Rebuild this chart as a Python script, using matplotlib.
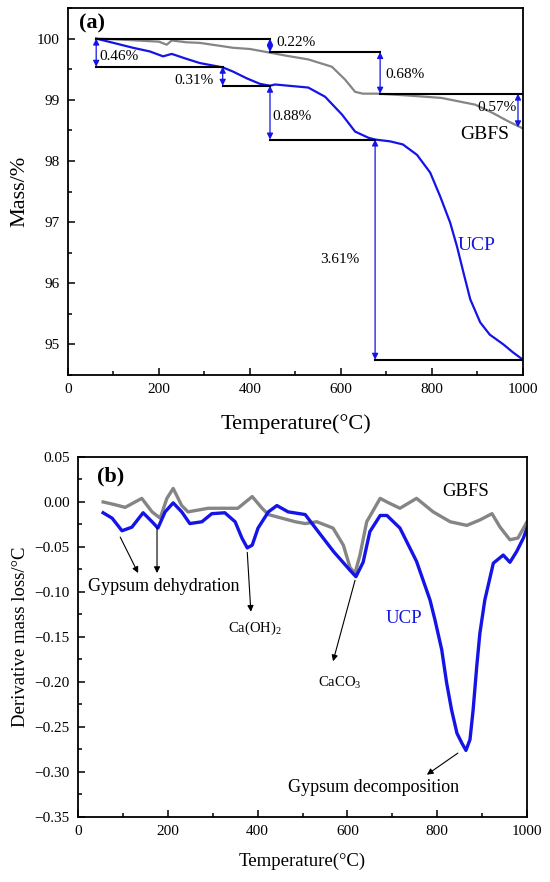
import matplotlib
matplotlib.use("Agg")
import matplotlib.pyplot as plt
from matplotlib.ticker import MultipleLocator

plt.rcParams['font.family'] = ['Liberation Serif', 'DejaVu Serif']
plt.rcParams['mathtext.fontset'] = 'custom'
plt.rcParams['mathtext.rm'] = 'Liberation Serif'

BLUE = '#1414e6'
GRAY = '#858585'

# ---- (a) TG curves ----
tg_gbfs_t = [62, 100, 150, 200, 217, 228, 260, 290, 363, 400, 444, 480, 528, 580, 609, 631, 648,
             681, 747, 821, 895, 932, 967, 1000]
tg_gbfs = [100.0, 99.99, 99.97, 99.95, 99.90, 99.97, 99.94, 99.93, 99.85, 99.83, 99.77, 99.72, 99.66,
           99.54, 99.33, 99.13, 99.10, 99.10, 99.07, 99.03, 98.92, 98.79, 98.65, 98.53]

tg_ucp_t = [62, 100, 143, 180, 209, 228, 260, 290, 340, 363, 393, 422, 444, 455, 528, 565, 602, 631,
            660, 675, 708, 736, 767, 796, 818, 840, 855, 869, 884, 906, 927, 957, 978, 1000]
tg_ucp = [100.0, 99.93, 99.85, 99.79, 99.71, 99.75, 99.67, 99.60, 99.53, 99.46, 99.35, 99.26, 99.23,
          99.25, 99.20, 99.05, 98.76, 98.48, 98.38, 98.35, 98.32, 98.27, 98.10, 97.81, 97.42, 96.99,
          96.60, 96.18, 95.74, 95.36, 95.16, 95.00, 94.87, 94.75]

# step lines: (x start, x end, level)
steps = [(62, 444, 100.0), (62, 340, 99.54), (340, 444, 99.23), (444, 675, 98.35),
         (675, 1000, 94.75), (444, 686, 99.78), (686, 1000, 99.10)]
# double arrows: (x, top, bottom)
drops = [(62, 100.0, 99.54), (340, 99.54, 99.23), (444, 99.23, 98.35), (675, 98.35, 94.75),
         (444, 100.0, 99.78), (686, 99.78, 99.10), (989, 99.10, 98.55)]
# drop labels: text, x, y, ha
drop_labels = [('0.46%', 70, 99.71, 'left'), ('0.31%', 320, 99.31, 'right'),
               ('0.88%', 450, 98.73, 'left'), ('3.61%', 640, 96.39, 'right'),
               ('0.22%', 458, 99.93, 'left'), ('0.68%', 697, 99.41, 'left'),
               ('0.57%', 942, 98.88, 'center')]

# ---- (b) DTG curves ----
dtg_ucp_t = [56, 76, 98, 120, 145, 165, 178, 194, 212, 231, 249, 276, 298, 327, 350, 365, 377, 388,
             401, 424, 443, 468, 506, 532, 569, 606, 619, 635, 650, 673, 688, 717, 754, 784, 795, 810,
             821, 832, 844, 855, 864, 873, 880, 888, 895, 906, 925, 947, 962, 977, 992, 1000]
dtg_ucp = [-0.012, -0.018, -0.032, -0.028, -0.012, -0.022, -0.029, -0.011, -0.001, -0.011, -0.024,
           -0.022, -0.013, -0.012, -0.022, -0.040, -0.051, -0.048, -0.029, -0.011, -0.004, -0.011,
           -0.014, -0.031, -0.055, -0.076, -0.083, -0.067, -0.033, -0.015, -0.015, -0.029, -0.066,
           -0.109, -0.131, -0.164, -0.201, -0.231, -0.257, -0.268, -0.276, -0.264, -0.231, -0.183,
           -0.146, -0.109, -0.068, -0.059, -0.067, -0.055, -0.040, -0.029]

dtg_gbfs_t = [56, 82, 105, 142, 165, 183, 198, 212, 231, 245, 290, 327, 356, 388, 410, 424, 454, 484,
              506, 532, 568, 591, 606, 617, 628, 643, 673, 688, 717, 754, 791, 829, 866, 895, 922, 940,
              962, 980, 1000]
dtg_gbfs = [0.0, -0.003, -0.006, 0.004, -0.011, -0.018, 0.004, 0.015, -0.004, -0.011, -0.007, -0.007,
            -0.007, 0.006, -0.007, -0.014, -0.018, -0.022, -0.024, -0.022, -0.029, -0.048, -0.073,
            -0.079, -0.059, -0.022, 0.004, 0.0, -0.007, 0.004, -0.011, -0.022, -0.026, -0.020,
            -0.013, -0.028, -0.042, -0.040, -0.022]

# peak notes: text, text x, text y, [(tail x, tail y, tip x, tip y)], fontsize
peak_notes = [
    ('Gypsum dehydration', 191, -0.094, [(94, -0.039, 134, -0.079), (176, -0.028, 176, -0.079)], 13),
    ('Ca(OH)$_\\mathregular{2}$', 394, -0.140, [(377, -0.056, 385, -0.122)], 10.5),
    ('CaCO$_\\mathregular{3}$', 583, -0.201, [(617, -0.087, 568, -0.177)], 10.5),
    ('Gypsum decomposition', 659, -0.317, [(846, -0.279, 777, -0.303)], 13),
]


def style_axes(ax):
    for s in ax.spines.values():
        s.set_linewidth(1.3)
    ax.tick_params(which='both', direction='in', width=1.1, labelsize=11, pad=6)
    ax.tick_params(which='major', length=5)
    ax.tick_params(which='minor', length=3)


fig = plt.figure(figsize=(5.5, 8.82), dpi=100)

ax1 = fig.add_axes([0.1236, 0.5748, 0.8273, 0.4161])
ax1.plot(tg_gbfs_t, tg_gbfs, color=GRAY, lw=1.6)
ax1.plot(tg_ucp_t, tg_ucp, color=BLUE, lw=1.6)
for x0, x1, lev in steps:
    ax1.plot([x0, x1], [lev, lev], color='black', lw=1.5)
for x, top, bot in drops:
    ax1.annotate('', xy=(x, bot), xytext=(x, top),
                 arrowprops=dict(arrowstyle='<|-|>', color=BLUE, lw=0.9,
                                 mutation_scale=9, shrinkA=0, shrinkB=0))
for txt, x, y, ha in drop_labels:
    ax1.text(x, y, txt, ha=ha, va='center', fontsize=11)
ax1.text(916, 98.43, 'GBFS', ha='center', va='center', fontsize=14)
ax1.text(857, 96.62, 'UCP', ha='left', va='center', fontsize=14, color=BLUE)
ax1.text(24, 100.24, '(a)', ha='left', va='center', fontsize=16, fontweight='bold')
ax1.set_xlim(0, 1000)
ax1.set_ylim(94.5, 100.5)
ax1.xaxis.set_major_locator(MultipleLocator(200))
ax1.xaxis.set_minor_locator(MultipleLocator(100))
ax1.yaxis.set_major_locator(MultipleLocator(1))
ax1.yaxis.set_minor_locator(MultipleLocator(0.5))
ax1.set_xlabel('Temperature(°C)', fontsize=16, labelpad=13)
ax1.set_ylabel('Mass/%', fontsize=16, labelpad=14)
style_axes(ax1)
ax1.yaxis.set_label_coords(-0.085, 0.5)

ax2 = fig.add_axes([0.1418, 0.0737, 0.8164, 0.4082])
ax2.plot(dtg_gbfs_t, dtg_gbfs, color=GRAY, lw=2.4)
ax2.plot(dtg_ucp_t, dtg_ucp, color=BLUE, lw=2.4)
for txt, tx, ty, arrows, fs in peak_notes:
    ax2.text(tx, ty, txt, ha='center', va='center', fontsize=fs)
    for ax_, ay_, bx_, by_ in arrows:
        ax2.annotate('', xy=(bx_, by_), xytext=(ax_, ay_),
                     arrowprops=dict(arrowstyle='-|>', color='black', lw=0.8,
                                     mutation_scale=9, shrinkA=0, shrinkB=0))
ax2.text(811, 0.012, 'GBFS', ha='left', va='center', fontsize=13.5)
ax2.text(684, -0.129, 'UCP', ha='left', va='center', fontsize=13.5, color=BLUE)
ax2.text(42, 0.028, '(b)', ha='left', va='center', fontsize=16, fontweight='bold')
ax2.set_xlim(0, 1000)
ax2.set_ylim(-0.35, 0.05)
ax2.xaxis.set_major_locator(MultipleLocator(200))
ax2.xaxis.set_minor_locator(MultipleLocator(100))
ax2.yaxis.set_major_locator(MultipleLocator(0.05))
ax2.yaxis.set_minor_locator(MultipleLocator(0.025))
ax2.set_xlabel('Temperature(°C)', fontsize=13.5, labelpad=10)
ax2.set_ylabel('Derivative mass loss/°C', fontsize=13.5, labelpad=4)
style_axes(ax2)

fig.savefig('out.png', dpi=100)
